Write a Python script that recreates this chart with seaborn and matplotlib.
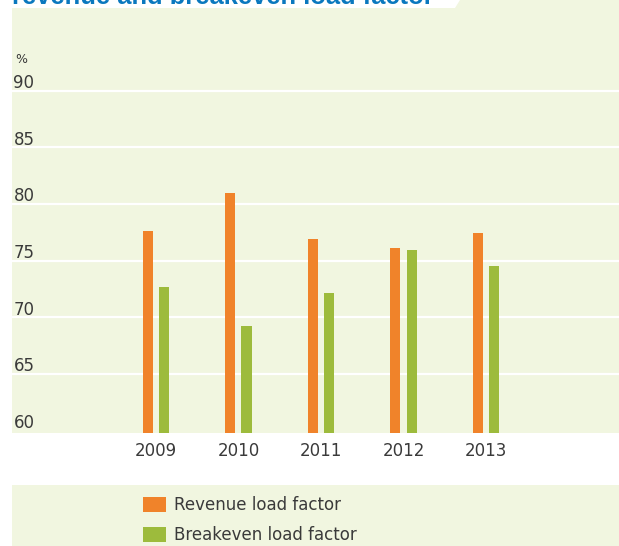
import matplotlib
matplotlib.use("Agg")
import matplotlib.pyplot as plt
import matplotlib.transforms as mtransforms
from matplotlib.patches import Rectangle, Polygon
import pandas as pd
import seaborn as sns

# Load factor data, per cent
years = ["2009", "2010", "2011", "2012", "2013"]
revenue_lf = [77.6, 81.0, 76.9, 76.1, 77.4]
breakeven_lf = [72.7, 69.2, 72.1, 75.9, 74.5]
series_names = ["Revenue load factor", "Breakeven load factor"]
y_ticks = [60, 65, 70, 75, 80, 85, 90]
title_text = "revenue and breakeven load factor"

ORANGE = "#F0832A"
GREEN = "#9DBB3C"
PANEL = "#F1F6E0"
TEXT = "#3A3A3A"
BLUE = "#0A78BE"

df = pd.DataFrame({
    "year": years * 2,
    "series": [series_names[0]] * len(years) + [series_names[1]] * len(years),
    "value": revenue_lf + breakeven_lf,
})

sns.set_style("white")
plt.rcParams["font.family"] = ["DejaVu Sans"]

W, H = 619, 546
fig = plt.figure(figsize=(W / 100, H / 100), dpi=100)
fig.patch.set_facecolor("white")

ax = fig.add_axes([12 / W, (H - 432.7) / H, 607 / W, 432.7 / H])
ax.set_facecolor(PANEL)

sns.barplot(data=df, x="year", y="value", hue="series", order=years,
            hue_order=series_names, palette=[ORANGE, GREEN],
            width=0.39, gap=0.375, linewidth=0, saturation=1,
            errorbar=None, ax=ax)

handles, labels = ax.get_legend_handles_labels()
if ax.get_legend() is not None:
    ax.get_legend().remove()

ax.set_xlim(-1.745, 5.612)
ax.set_ylim(59.8, 98.0)
ax.set_xlabel("")
ax.set_ylabel("")
for s in ax.spines.values():
    s.set_visible(False)

# horizontal white grid
ax.set_yticks(y_ticks)
ax.set_yticklabels([])
ax.tick_params(axis="y", length=0)
ax.grid(axis="y", color="white", linewidth=1.6)
ax.grid(axis="x", visible=False)
ax.set_axisbelow(True)
ax.yaxis.get_gridlines()[0].set_visible(False)

# value labels sit just above each grid line at the left edge
lab_tr = mtransforms.blended_transform_factory(ax.transAxes, ax.transData) + \
    mtransforms.ScaledTranslation(1.5 / 100, 2.4 / 100, fig.dpi_scale_trans)
for v in y_ticks:
    ax.text(0, v, str(v), transform=lab_tr, ha="left", va="baseline",
            fontsize=12, color=TEXT)

ax.tick_params(axis="x", length=0, pad=6.5, labelsize=12, labelcolor=TEXT)

fig.text(15 / W, 1 - 63 / H, "%", fontsize=9, color=TEXT, ha="left", va="baseline")

# legend panel
fig.add_artist(Rectangle((12 / W, 0), 607 / W, 61 / H, transform=fig.transFigure,
                         facecolor=PANEL, edgecolor="none", zorder=0))
fig.legend(handles, labels, loc="upper left",
           bbox_to_anchor=(143 / W, 1 - 496 / H), frameon=False,
           fontsize=12, handlelength=1.38, handleheight=0.96,
           handletextpad=0.48, labelspacing=0.74, borderpad=0,
           borderaxespad=0, labelcolor=TEXT)

# title band
fig.add_artist(Polygon([(0, 1), (460 / W, 1), (455 / W, 1 - 8 / H), (0, 1 - 8 / H)],
                       closed=True, transform=fig.transFigure,
                       facecolor="white", edgecolor="none", zorder=5))
fig.text(12 / W, 1 - 4.5 / H, title_text, fontsize=18.4, fontweight="bold",
         family="Liberation Sans", color=BLUE, ha="left", va="baseline", zorder=6)

fig.savefig("out.png", dpi=100)
